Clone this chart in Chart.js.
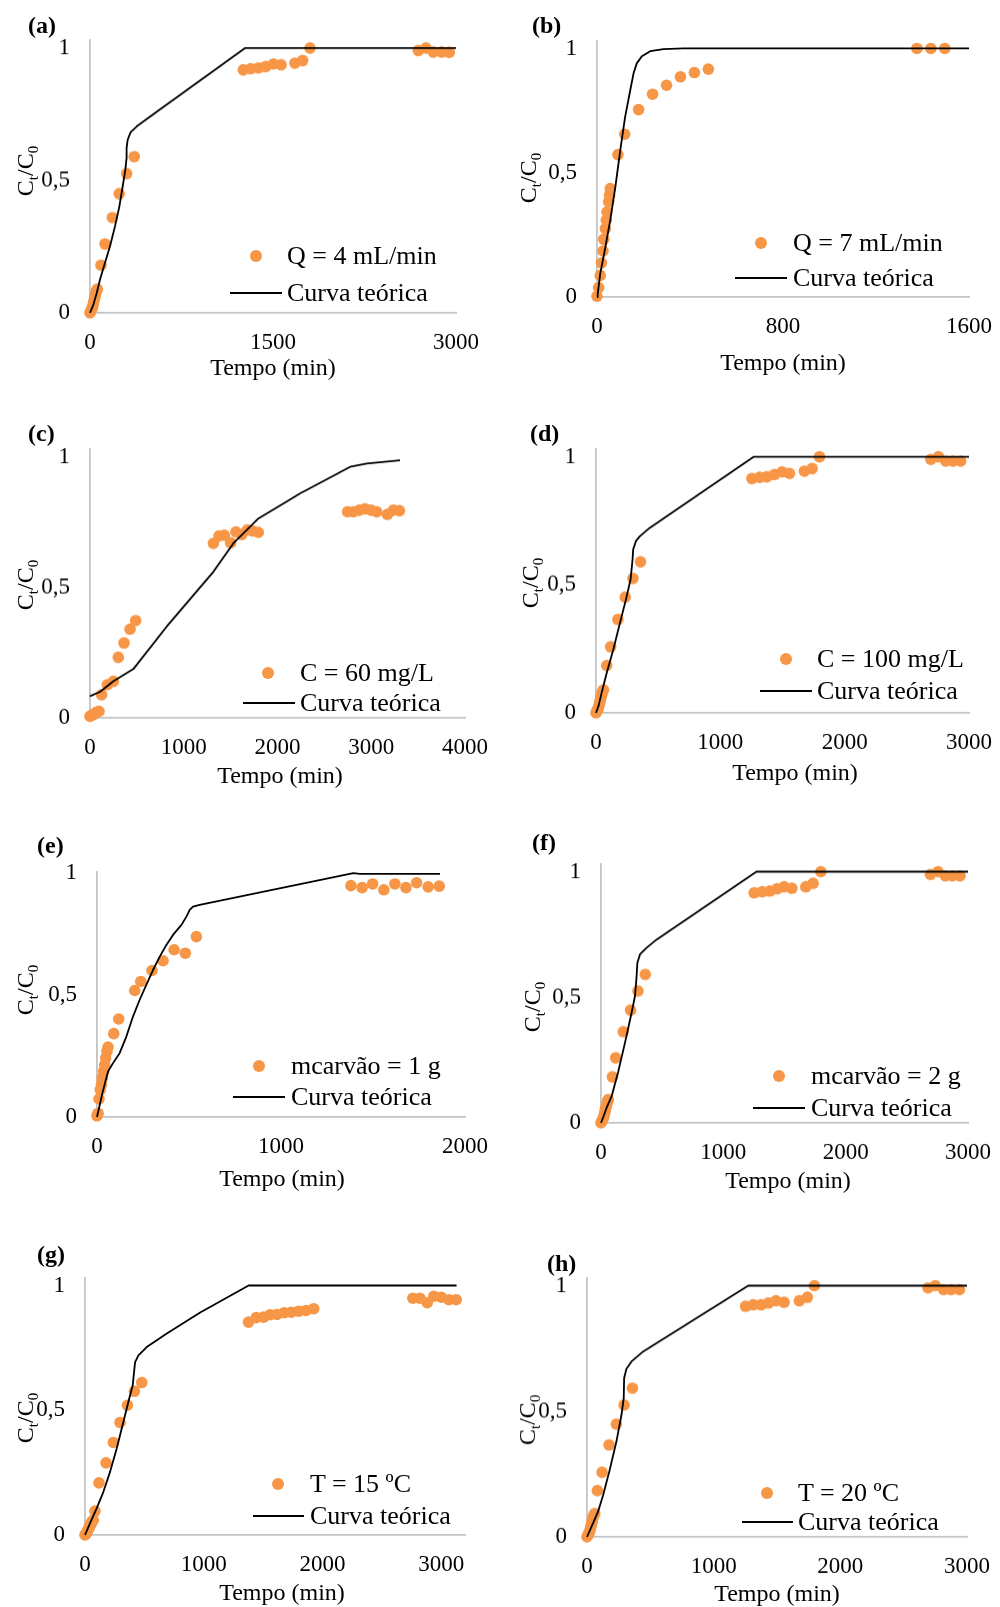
<!DOCTYPE html>
<html>
<head>
<meta charset="utf-8">
<script src="https://cdn.jsdelivr.net/npm/chart.js@4.4.1/dist/chart.umd.min.js"></script>
<style>
  body { margin: 0; background: #fff; }
  #page { position: relative; width: 1000px; height: 1607px; overflow: hidden; font-family: "Liberation Serif", "Times New Roman", serif; color: #000; }
  canvas { position: absolute; }
  .txt { position: absolute; white-space: nowrap; line-height: 1; transform: translateY(-50%); }
  .tag { font-weight: bold; font-size: 24px; }
  .xt { font-size: 24px; transform: translate(-50%, -50%); }
  .yt { font-size: 24px; transform: translate(-50%, -50%) rotate(-90deg); }
  .yt sub { font-size: 15px; vertical-align: -0.3em; line-height: 0; }
  .leg { font-size: 26px; }
  .dot { position: absolute; width: 12px; height: 12px; border-radius: 50%; background: #F79646; transform: translate(-50%, -50%); }
  .ln { position: absolute; height: 2px; background: #000; }
</style>
</head>
<body>
<div id="page"></div>
<script>
// tick values
const yTicks = [0, 0.5, 1];
const xTicksA = [0, 1500, 3000];
const xTicksB = [0, 800, 1600];
const xTicksC = [0, 1000, 2000, 3000, 4000];
const xTicksD = [0, 1000, 2000, 3000];
const xTicksE = [0, 1000, 2000];

const seriesNames = ['Q = 4 mL/min', 'Q = 7 mL/min', 'C = 60 mg/L', 'C = 100 mg/L',
  'mcarvão = 1 g', 'mcarvão = 2 g', 'T = 15 ºC', 'T = 20 ºC'];
const curveName = 'Curva teórica';

// (a) Q = 4 mL/min
const aTempo = [0, 5, 10, 15, 20, 25, 30, 35, 40, 45, 50, 55, 60, 90, 123, 183, 240, 300, 363,
  1257, 1317, 1380, 1440, 1503, 1566, 1680, 1743, 1803, 2691, 2754, 2814, 2883, 2945];
const aCt = [0, 0.005, 0.01, 0.015, 0.02, 0.03, 0.04, 0.05, 0.06, 0.07, 0.08, 0.085, 0.09, 0.18, 0.26, 0.36, 0.45, 0.526, 0.59,
  0.918, 0.922, 0.925, 0.93, 0.94, 0.937, 0.943, 0.953, 1.0, 0.991, 1.0, 0.985, 0.985, 0.984];
const aTeoTempo = [0, 27, 55, 82, 123, 164, 205, 240, 268, 290, 298, 300, 309, 333, 383, 464, 1270, 1300, 3000];
const aTeo = [0, 0.03, 0.075, 0.126, 0.189, 0.252, 0.327, 0.40, 0.478, 0.541, 0.579, 0.623, 0.654, 0.682, 0.704, 0.732, 1.0, 1.0, 1.0];

// (b) Q = 7 mL/min
const bTempo = [0, 7, 14, 19, 26, 29, 36, 40, 43, 50, 54, 57, 90, 119, 179, 239, 299, 359, 419, 479, 1376, 1436, 1496];
const bCt = [0.003, 0.038, 0.087, 0.137, 0.185, 0.232, 0.275, 0.309, 0.342, 0.383, 0.409, 0.436, 0.573, 0.655,
  0.754, 0.816, 0.852, 0.886, 0.903, 0.917, 1.0, 1.0, 1.0];
const bTeoTempo = [0, 3, 14, 36, 57, 79, 100, 121, 143, 157, 171, 193, 229, 286, 371, 1600];
const bTeo = [0, 0.013, 0.094, 0.2, 0.309, 0.443, 0.59, 0.725, 0.832, 0.899, 0.94, 0.969, 0.989, 0.997, 1.0, 1.0];

// (c) C = 60 mg/L
const cTempo = [0, 18, 36, 53, 71, 96, 124, 185, 249, 302, 363, 427, 487, 1316, 1376, 1433, 1500, 1557, 1618,
  1678, 1735, 1796, 2748, 2809, 2873, 2933, 2997, 3058, 3172, 3236, 3300];
const cCt = [0.006, 0.01, 0.013, 0.017, 0.022, 0.025, 0.089, 0.127, 0.14, 0.232, 0.287, 0.34, 0.373, 0.669, 0.697,
  0.70, 0.671, 0.713, 0.703, 0.72, 0.716, 0.711, 0.79, 0.79, 0.796, 0.801, 0.796, 0.79, 0.78, 0.796, 0.794];
const cTeoTempo = [0, 107, 249, 462, 818, 1316, 1529, 1796, 2240, 2773, 2951, 3307];
const cTeo = [0.083, 0.10, 0.14, 0.187, 0.35, 0.56, 0.669, 0.764, 0.86, 0.962, 0.975, 0.987];

// (d) C = 100 mg/L
const dTempo = [0, 5, 10, 15, 20, 25, 30, 35, 40, 45, 50, 55, 60, 86, 118, 176, 235, 297, 358,
  1254, 1316, 1374, 1436, 1497, 1556, 1676, 1738, 1797, 2693, 2754, 2813, 2872, 2933];
const dCt = [0, 0.005, 0.01, 0.015, 0.02, 0.03, 0.04, 0.05, 0.06, 0.07, 0.08, 0.085, 0.09, 0.185, 0.258, 0.365, 0.452, 0.525, 0.59,
  0.915, 0.92, 0.922, 0.931, 0.941, 0.935, 0.944, 0.954, 1.0, 0.99, 1.0, 0.983, 0.983, 0.983];
const dTeoTempo = [0, 22, 45, 86, 139, 193, 241, 278, 294, 299, 321, 353, 433, 1267, 1302, 3000];
const dTeo = [0, 0.03, 0.078, 0.156, 0.247, 0.352, 0.443, 0.521, 0.599, 0.638, 0.671, 0.69, 0.723, 1.0, 1.0, 1.0];

// (e) mcarvão = 1 g
const eTempo = [0, 3, 6, 11, 18, 24, 29, 36, 42, 47, 54, 60, 91, 118, 205, 238, 299, 359, 419, 480, 540,
  1380, 1441, 1498, 1559, 1619, 1679, 1737, 1800, 1860];
const eCt = [0.005, 0.01, 0.015, 0.074, 0.112, 0.133, 0.16, 0.187, 0.214, 0.242, 0.269, 0.287, 0.342, 0.402,
  0.519, 0.556, 0.601, 0.641, 0.686, 0.672, 0.74, 0.949, 0.941, 0.956, 0.932, 0.956, 0.941, 0.961, 0.944, 0.947];
const eTeoTempo = [0, 30, 60, 87, 123, 160, 196, 232, 268, 305, 341, 377, 413, 459, 486, 504, 522, 558, 1393, 1429, 1864];
const eTeo = [0, 0.1, 0.187, 0.221, 0.262, 0.331, 0.413, 0.481, 0.542, 0.604, 0.658, 0.706, 0.747, 0.788, 0.822,
  0.85, 0.863, 0.87, 1.0, 0.997, 0.997];

// (f) mcarvão = 2 g
const fTempo = [0, 5, 10, 15, 20, 25, 30, 35, 40, 45, 50, 55, 60, 93, 120, 182, 242, 302, 362,
  1252, 1318, 1380, 1440, 1497, 1560, 1674, 1734, 1797, 2693, 2755, 2815, 2872, 2935];
const fCt = [0, 0.005, 0.01, 0.015, 0.02, 0.03, 0.04, 0.05, 0.06, 0.07, 0.08, 0.087, 0.093, 0.183, 0.259, 0.363, 0.449, 0.525, 0.591,
  0.916, 0.92, 0.923, 0.932, 0.94, 0.934, 0.94, 0.954, 1.0, 0.989, 1.0, 0.983, 0.983, 0.983];
const fTeoTempo = [0, 20, 46, 87, 142, 196, 250, 278, 291, 297, 319, 373, 455, 1271, 1312, 3000];
const fTeo = [0, 0.025, 0.06, 0.106, 0.206, 0.319, 0.438, 0.505, 0.584, 0.637, 0.671, 0.697, 0.73, 1.0, 1.0, 1.0];

// (g) T = 15 ºC
const gTempo = [0, 5, 10, 15, 20, 25, 30, 35, 40, 45, 50, 55, 60, 70, 84, 118, 177, 239, 295, 357, 416, 478,
  1377, 1442, 1504, 1560, 1617, 1678, 1737, 1799, 1861, 1926, 2761, 2820, 2882, 2938, 3000, 3064, 3126];
const gCt = [0, 0.003, 0.006, 0.01, 0.015, 0.02, 0.025, 0.03, 0.035, 0.04, 0.045, 0.05, 0.055, 0.06, 0.096, 0.209,
  0.289, 0.371, 0.451, 0.52, 0.576, 0.611, 0.853, 0.871, 0.873, 0.883, 0.884, 0.891, 0.893, 0.897, 0.9, 0.907,
  0.949, 0.949, 0.931, 0.957, 0.953, 0.943, 0.943];
const gTeoTempo = [0, 42, 98, 155, 211, 267, 323, 365, 402, 413, 422, 450, 520, 689, 970, 1378, 1420, 3129];
const gTeo = [0, 0.047, 0.107, 0.173, 0.253, 0.347, 0.453, 0.533, 0.6, 0.653, 0.693, 0.72, 0.753, 0.808, 0.892, 1.0, 1.0, 1.0];

// (h) T = 20 ºC
const hTempo = [0, 5, 10, 15, 20, 25, 30, 35, 40, 45, 50, 55, 61, 82, 119, 174, 232, 293, 359,
  1252, 1313, 1374, 1432, 1492, 1556, 1676, 1740, 1795, 2692, 2750, 2816, 2874, 2940];
const hCt = [0, 0.005, 0.01, 0.015, 0.02, 0.03, 0.04, 0.05, 0.06, 0.07, 0.08, 0.087, 0.093, 0.184, 0.257, 0.366, 0.449, 0.525, 0.592,
  0.918, 0.924, 0.924, 0.931, 0.94, 0.934, 0.94, 0.954, 1.0, 0.991, 1.0, 0.984, 0.984, 0.984];
const hTeoTempo = [0, 40, 87, 127, 179, 232, 272, 290, 293, 311, 351, 443, 1273, 1313, 3000];
const hTeo = [0, 0.045, 0.1, 0.166, 0.266, 0.379, 0.485, 0.552, 0.632, 0.669, 0.698, 0.738, 1.0, 1.0, 1.0];

// page layout: box = [px of x=0, px of x=max, px of y=1, px of y=0]
// leg = [marker x, marker y, text left, line x1, line x2, line y]
const panels = [
  { tag: '(a)', t: aTempo, c: aCt, tt: aTeoTempo, tc: aTeo, ticks: xTicksA, xMax: 3000, yMax: 1.03,
    box: [90, 456, 48, 313], tagAt: [28, 25], yTitle: [25, 171], xTitle: [273, 367], leg: [256, 256, 287, 230, 282, 293] },
  { tag: '(b)', t: bTempo, c: bCt, tt: bTeoTempo, tc: bTeo, ticks: xTicksB, xMax: 1600, yMax: 1.03,
    box: [597, 969, 48, 297], tagAt: [532, 25], yTitle: [528, 178], xTitle: [783, 362], leg: [761, 243, 793, 735, 787, 278] },
  { tag: '(c)', t: cTempo, c: cCt, tt: cTeoTempo, tc: cTeo, ticks: xTicksC, xMax: 4000, yMax: 1.03,
    box: [90, 465, 457, 718], tagAt: [28, 433], yTitle: [25, 585], xTitle: [280, 775], leg: [268, 673, 300, 243, 295, 703] },
  { tag: '(d)', t: dTempo, c: dCt, tt: dTeoTempo, tc: dTeo, ticks: xTicksD, xMax: 3000, yMax: 1.03,
    box: [596, 969, 457, 713], tagAt: [530, 433], yTitle: [530, 583], xTitle: [795, 772], leg: [786, 659, 817, 760, 812, 691] },
  { tag: '(e)', t: eTempo, c: eCt, tt: eTeoTempo, tc: eTeo, ticks: xTicksE, xMax: 2000, yMax: 1.005,
    box: [97, 465, 873, 1117], tagAt: [37, 845], yTitle: [25, 990], xTitle: [282, 1178], leg: [259, 1066, 291, 233, 285, 1097] },
  { tag: '(f)', t: fTempo, c: fCt, tt: fTeoTempo, tc: fTeo, ticks: xTicksD, xMax: 3000, yMax: 1.03,
    box: [601, 968, 872, 1123], tagAt: [532, 842], yTitle: [532, 1007], xTitle: [788, 1180], leg: [779, 1076, 811, 753, 805, 1108] },
  { tag: '(g)', t: gTempo, c: gCt, tt: gTeoTempo, tc: gTeo, ticks: xTicksD, xMax: 3200, yMax: 1.03,
    box: [85, 465, 1285, 1535], tagAt: [37, 1254], yTitle: [25, 1418], xTitle: [282, 1592], leg: [278, 1484, 310, 253, 304, 1516] },
  { tag: '(h)', t: hTempo, c: hCt, tt: hTeoTempo, tc: hTeo, ticks: xTicksD, xMax: 3000, yMax: 1.03,
    box: [587, 967, 1286, 1537], tagAt: [547, 1263], yTitle: [527, 1420], xTitle: [777, 1593], leg: [767, 1493, 798, 742, 793, 1522] }
];

const FONT = '"Liberation Serif", "Times New Roman", serif';
const YW = 80, PT = 45, PR = 50, XH = 60;
const page = document.getElementById('page');

function addDiv(cls, html, x, y) {
  const d = document.createElement('div');
  d.className = cls;
  d.innerHTML = html;
  d.style.left = x + 'px';
  d.style.top = y + 'px';
  page.appendChild(d);
  return d;
}

function drawPanel(p, i) {
  const [x0, x1, y1, y0] = p.box;
  const plotTop = y0 - (y0 - y1) * p.yMax;

  const canvas = document.createElement('canvas');
  const w = (x1 - x0) + YW + PR;
  const h = (y0 - plotTop) + PT + XH;
  canvas.width = w;
  canvas.height = h;
  canvas.style.left = (x0 - YW) + 'px';
  canvas.style.top = (plotTop - PT) + 'px';
  canvas.style.width = w + 'px';
  canvas.style.height = h + 'px';
  page.appendChild(canvas);

  const pts = p.t.map((v, k) => ({ x: v, y: p.c[k] }));
  const curve = p.tt.map((v, k) => ({ x: v, y: p.tc[k] }));

  new Chart(canvas.getContext('2d'), {
    type: 'scatter',
    data: {
      datasets: [
        {
          type: 'line',
          label: curveName,
          data: curve,
          borderColor: '#000',
          borderWidth: 1.8,
          borderJoinStyle: 'round',
          pointRadius: 0,
          fill: false,
          tension: 0,
          clip: false,
          order: 0
        },
        {
          label: seriesNames[i],
          data: pts,
          backgroundColor: '#F79646',
          borderWidth: 0,
          pointRadius: 5.8,
          clip: false,
          order: 1
        }
      ]
    },
    options: {
      responsive: false,
      animation: false,
      events: [],
      layout: { padding: { left: 0, top: PT, right: PR, bottom: 0 } },
      plugins: { legend: { display: false }, tooltip: { enabled: false } },
      scales: {
        x: {
          type: 'linear',
          min: 0,
          max: p.xMax,
          grid: { display: false, drawTicks: false },
          border: { display: true, color: '#c4c4c4', width: 1.8 },
          afterBuildTicks: s => { s.ticks = p.ticks.map(v => ({ value: v })); },
          afterFit: s => { s.height = XH; },
          ticks: {
            padding: 16,
            maxRotation: 0,
            autoSkip: false,
            color: '#000',
            font: { family: FONT, size: 23 },
            callback: v => String(v)
          }
        },
        y: {
          type: 'linear',
          min: 0,
          max: p.yMax,
          grid: { display: false, drawTicks: false },
          border: { display: true, color: '#c4c4c4', width: 1.8 },
          afterBuildTicks: s => { s.ticks = yTicks.map(v => ({ value: v })); },
          afterFit: s => { s.width = YW; },
          ticks: {
            padding: 20,
            color: '#000',
            font: { family: FONT, size: 23 },
            callback: v => String(v).replace('.', ',')
          }
        }
      }
    }
  });

  // text and legend on top of the canvas
  addDiv('txt tag', p.tag, p.tagAt[0], p.tagAt[1]);
  addDiv('txt yt', 'C<sub>t</sub>/C<sub>0</sub>', p.yTitle[0], p.yTitle[1]);
  addDiv('txt xt', 'Tempo (min)', p.xTitle[0], p.xTitle[1]);

  const [mx, my, tx, lx1, lx2, ly] = p.leg;
  addDiv('dot', '', mx, my);
  addDiv('txt leg', seriesNames[i], tx, my);
  const line = addDiv('ln', '', lx1, ly - 1);
  line.style.width = (lx2 - lx1) + 'px';
  addDiv('txt leg', curveName, tx, ly);
}

panels.forEach(drawPanel);
</script>
</body>
</html>
